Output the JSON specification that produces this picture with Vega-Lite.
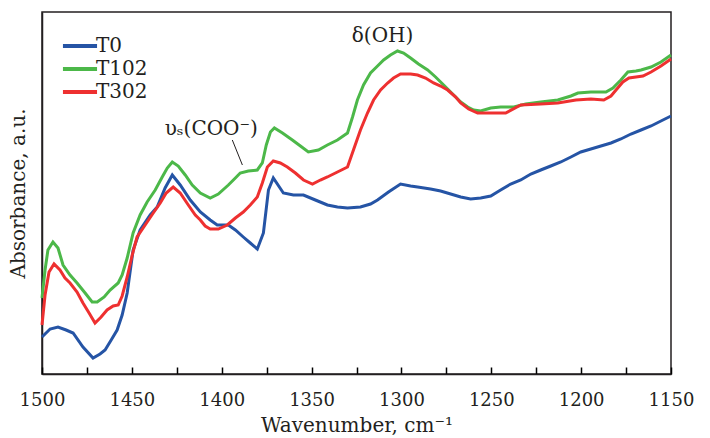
{
  "$schema": "https://vega.github.io/schema/vega-lite/v6.json",
  "width": 629,
  "height": 362,
  "autosize": {"type": "none"},
  "padding": {"left": 42, "top": 12, "right": 39, "bottom": 64},
  "background": "white",
  "config": {
    "view": {"stroke": "#231f20", "strokeWidth": 1.5},
    "font": "DejaVu Serif",
    "axis": {"grid": false, "domainColor": "#231f20", "domainWidth": 1.5, "tickColor": "#231f20", "labelColor": "#231f20", "titleColor": "#231f20", "labelFont": "DejaVu Serif", "titleFont": "DejaVu Serif", "titleFontWeight": "normal"}
  },
  "datasets": {
    "spectra": [
      {"wn":1500,"abs":37,"s":"T0"},{"wn":1495.5,"abs":45,"s":"T0"},{"wn":1491.1,"abs":47,"s":"T0"},{"wn":1486.6,"abs":44,"s":"T0"},{"wn":1482.7,"abs":41,"s":"T0"},{"wn":1477.2,"abs":27,"s":"T0"},{"wn":1471.6,"abs":16,"s":"T0"},{"wn":1467.7,"abs":20,"s":"T0"},{"wn":1464.9,"abs":24,"s":"T0"},{"wn":1461.5,"abs":34,"s":"T0"},{"wn":1458.2,"abs":44,"s":"T0"},{"wn":1455.4,"abs":59,"s":"T0"},{"wn":1452.6,"abs":81,"s":"T0"},{"wn":1449.3,"abs":124,"s":"T0"},{"wn":1445.4,"abs":144,"s":"T0"},{"wn":1439.8,"abs":159,"s":"T0"},{"wn":1435.9,"abs":167,"s":"T0"},{"wn":1431.5,"abs":186,"s":"T0"},{"wn":1427.5,"abs":199,"s":"T0"},{"wn":1423.1,"abs":189,"s":"T0"},{"wn":1417.5,"abs":174,"s":"T0"},{"wn":1411.9,"abs":162,"s":"T0"},{"wn":1406.4,"abs":154,"s":"T0"},{"wn":1402.5,"abs":149,"s":"T0"},{"wn":1396.3,"abs":149,"s":"T0"},{"wn":1392.4,"abs":144,"s":"T0"},{"wn":1388.0,"abs":137,"s":"T0"},{"wn":1384.1,"abs":131,"s":"T0"},{"wn":1380.2,"abs":125,"s":"T0"},{"wn":1376.8,"abs":141,"s":"T0"},{"wn":1374.0,"abs":184,"s":"T0"},{"wn":1371.3,"abs":196,"s":"T0"},{"wn":1365.7,"abs":181,"s":"T0"},{"wn":1360.1,"abs":179,"s":"T0"},{"wn":1354.5,"abs":179,"s":"T0"},{"wn":1347.9,"abs":174,"s":"T0"},{"wn":1341.2,"abs":169,"s":"T0"},{"wn":1335.6,"abs":167,"s":"T0"},{"wn":1330.0,"abs":166,"s":"T0"},{"wn":1322.8,"abs":167,"s":"T0"},{"wn":1317.2,"abs":170,"s":"T0"},{"wn":1313.3,"abs":174,"s":"T0"},{"wn":1307.2,"abs":182,"s":"T0"},{"wn":1300.5,"abs":190,"s":"T0"},{"wn":1294.9,"abs":188,"s":"T0"},{"wn":1291.0,"abs":187,"s":"T0"},{"wn":1283.8,"abs":185,"s":"T0"},{"wn":1278.2,"abs":183,"s":"T0"},{"wn":1272.6,"abs":180,"s":"T0"},{"wn":1267.0,"abs":177,"s":"T0"},{"wn":1261.5,"abs":175,"s":"T0"},{"wn":1255.9,"abs":176,"s":"T0"},{"wn":1250.3,"abs":178,"s":"T0"},{"wn":1244.8,"abs":184,"s":"T0"},{"wn":1239.2,"abs":190,"s":"T0"},{"wn":1233.6,"abs":194,"s":"T0"},{"wn":1228.0,"abs":200,"s":"T0"},{"wn":1222.5,"abs":204,"s":"T0"},{"wn":1216.9,"abs":208,"s":"T0"},{"wn":1211.3,"abs":212,"s":"T0"},{"wn":1205.7,"abs":217,"s":"T0"},{"wn":1200.2,"abs":222,"s":"T0"},{"wn":1194.6,"abs":225,"s":"T0"},{"wn":1189.0,"abs":228,"s":"T0"},{"wn":1183.4,"abs":231,"s":"T0"},{"wn":1177.9,"abs":235,"s":"T0"},{"wn":1172.3,"abs":240,"s":"T0"},{"wn":1166.7,"abs":244,"s":"T0"},{"wn":1161.1,"abs":248,"s":"T0"},{"wn":1155.6,"abs":253,"s":"T0"},{"wn":1150,"abs":258,"s":"T0"},
      {"wn":1500,"abs":76,"s":"T102"},{"wn":1498.3,"abs":104,"s":"T102"},{"wn":1496.7,"abs":124,"s":"T102"},{"wn":1493.9,"abs":132,"s":"T102"},{"wn":1491.1,"abs":126,"s":"T102"},{"wn":1488.3,"abs":109,"s":"T102"},{"wn":1484.4,"abs":99,"s":"T102"},{"wn":1480.5,"abs":91,"s":"T102"},{"wn":1476.0,"abs":81,"s":"T102"},{"wn":1472.1,"abs":72,"s":"T102"},{"wn":1469.3,"abs":72,"s":"T102"},{"wn":1465.4,"abs":77,"s":"T102"},{"wn":1462.1,"abs":84,"s":"T102"},{"wn":1457.6,"abs":91,"s":"T102"},{"wn":1455.4,"abs":99,"s":"T102"},{"wn":1452.6,"abs":116,"s":"T102"},{"wn":1449.3,"abs":141,"s":"T102"},{"wn":1445.4,"abs":159,"s":"T102"},{"wn":1441.5,"abs":172,"s":"T102"},{"wn":1437.0,"abs":184,"s":"T102"},{"wn":1433.1,"abs":197,"s":"T102"},{"wn":1430.3,"abs":206,"s":"T102"},{"wn":1427.5,"abs":212,"s":"T102"},{"wn":1424.2,"abs":208,"s":"T102"},{"wn":1420.3,"abs":199,"s":"T102"},{"wn":1416.4,"abs":189,"s":"T102"},{"wn":1411.9,"abs":181,"s":"T102"},{"wn":1406.4,"abs":176,"s":"T102"},{"wn":1401.9,"abs":180,"s":"T102"},{"wn":1396.3,"abs":189,"s":"T102"},{"wn":1392.4,"abs":196,"s":"T102"},{"wn":1389.7,"abs":201,"s":"T102"},{"wn":1385.2,"abs":203,"s":"T102"},{"wn":1380.2,"abs":204,"s":"T102"},{"wn":1377.4,"abs":211,"s":"T102"},{"wn":1375.2,"abs":229,"s":"T102"},{"wn":1372.9,"abs":242,"s":"T102"},{"wn":1370.7,"abs":246,"s":"T102"},{"wn":1366.2,"abs":241,"s":"T102"},{"wn":1360.7,"abs":234,"s":"T102"},{"wn":1356.2,"abs":228,"s":"T102"},{"wn":1351.8,"abs":222,"s":"T102"},{"wn":1346.2,"abs":224,"s":"T102"},{"wn":1341.2,"abs":229,"s":"T102"},{"wn":1335.6,"abs":234,"s":"T102"},{"wn":1330.0,"abs":241,"s":"T102"},{"wn":1327.2,"abs":257,"s":"T102"},{"wn":1324.5,"abs":274,"s":"T102"},{"wn":1321.1,"abs":289,"s":"T102"},{"wn":1317.2,"abs":301,"s":"T102"},{"wn":1313.3,"abs":308,"s":"T102"},{"wn":1309.9,"abs":314,"s":"T102"},{"wn":1306.1,"abs":319,"s":"T102"},{"wn":1302.2,"abs":323,"s":"T102"},{"wn":1298.8,"abs":321,"s":"T102"},{"wn":1294.9,"abs":316,"s":"T102"},{"wn":1290.5,"abs":310,"s":"T102"},{"wn":1285.4,"abs":304,"s":"T102"},{"wn":1281.0,"abs":297,"s":"T102"},{"wn":1276.5,"abs":289,"s":"T102"},{"wn":1271.5,"abs":280,"s":"T102"},{"wn":1267.0,"abs":272,"s":"T102"},{"wn":1263.1,"abs":267,"s":"T102"},{"wn":1259.8,"abs":264,"s":"T102"},{"wn":1255.9,"abs":263,"s":"T102"},{"wn":1250.3,"abs":266,"s":"T102"},{"wn":1244.8,"abs":267,"s":"T102"},{"wn":1237.5,"abs":267,"s":"T102"},{"wn":1230.8,"abs":270,"s":"T102"},{"wn":1222.5,"abs":272,"s":"T102"},{"wn":1213.0,"abs":274,"s":"T102"},{"wn":1205.7,"abs":278,"s":"T102"},{"wn":1201.8,"abs":281,"s":"T102"},{"wn":1194.6,"abs":282,"s":"T102"},{"wn":1186.2,"abs":282,"s":"T102"},{"wn":1182.3,"abs":286,"s":"T102"},{"wn":1177.9,"abs":294,"s":"T102"},{"wn":1174.0,"abs":302,"s":"T102"},{"wn":1169.5,"abs":303,"s":"T102"},{"wn":1166.7,"abs":304,"s":"T102"},{"wn":1161.1,"abs":307,"s":"T102"},{"wn":1155.6,"abs":312,"s":"T102"},{"wn":1150,"abs":319,"s":"T102"},
      {"wn":1500,"abs":49,"s":"T302"},{"wn":1498.3,"abs":79,"s":"T302"},{"wn":1496.1,"abs":102,"s":"T302"},{"wn":1493.3,"abs":110,"s":"T302"},{"wn":1490.0,"abs":104,"s":"T302"},{"wn":1487.2,"abs":96,"s":"T302"},{"wn":1484.4,"abs":91,"s":"T302"},{"wn":1480.5,"abs":82,"s":"T302"},{"wn":1477.2,"abs":71,"s":"T302"},{"wn":1473.8,"abs":61,"s":"T302"},{"wn":1470.5,"abs":51,"s":"T302"},{"wn":1467.1,"abs":57,"s":"T302"},{"wn":1463.8,"abs":64,"s":"T302"},{"wn":1460.4,"abs":68,"s":"T302"},{"wn":1457.6,"abs":69,"s":"T302"},{"wn":1455.4,"abs":78,"s":"T302"},{"wn":1452.6,"abs":97,"s":"T302"},{"wn":1449.8,"abs":119,"s":"T302"},{"wn":1447.1,"abs":137,"s":"T302"},{"wn":1442.6,"abs":149,"s":"T302"},{"wn":1438.1,"abs":161,"s":"T302"},{"wn":1434.2,"abs":171,"s":"T302"},{"wn":1430.9,"abs":181,"s":"T302"},{"wn":1427.0,"abs":187,"s":"T302"},{"wn":1423.1,"abs":181,"s":"T302"},{"wn":1418.6,"abs":169,"s":"T302"},{"wn":1414.7,"abs":159,"s":"T302"},{"wn":1411.9,"abs":154,"s":"T302"},{"wn":1409.2,"abs":148,"s":"T302"},{"wn":1406.4,"abs":145,"s":"T302"},{"wn":1401.9,"abs":145,"s":"T302"},{"wn":1396.9,"abs":149,"s":"T302"},{"wn":1392.4,"abs":156,"s":"T302"},{"wn":1388.0,"abs":162,"s":"T302"},{"wn":1384.1,"abs":169,"s":"T302"},{"wn":1380.2,"abs":177,"s":"T302"},{"wn":1377.4,"abs":191,"s":"T302"},{"wn":1374.6,"abs":207,"s":"T302"},{"wn":1371.3,"abs":213,"s":"T302"},{"wn":1367.4,"abs":211,"s":"T302"},{"wn":1363.5,"abs":207,"s":"T302"},{"wn":1359.0,"abs":201,"s":"T302"},{"wn":1354.5,"abs":194,"s":"T302"},{"wn":1349.5,"abs":190,"s":"T302"},{"wn":1345.1,"abs":194,"s":"T302"},{"wn":1341.2,"abs":197,"s":"T302"},{"wn":1335.6,"abs":202,"s":"T302"},{"wn":1330.0,"abs":207,"s":"T302"},{"wn":1326.7,"abs":224,"s":"T302"},{"wn":1322.8,"abs":244,"s":"T302"},{"wn":1318.9,"abs":261,"s":"T302"},{"wn":1315.5,"abs":274,"s":"T302"},{"wn":1311.6,"abs":284,"s":"T302"},{"wn":1307.7,"abs":291,"s":"T302"},{"wn":1304.4,"abs":296,"s":"T302"},{"wn":1300.5,"abs":300,"s":"T302"},{"wn":1294.9,"abs":300,"s":"T302"},{"wn":1291.0,"abs":299,"s":"T302"},{"wn":1286.6,"abs":296,"s":"T302"},{"wn":1282.1,"abs":291,"s":"T302"},{"wn":1278.2,"abs":288,"s":"T302"},{"wn":1274.3,"abs":284,"s":"T302"},{"wn":1269.8,"abs":277,"s":"T302"},{"wn":1267.0,"abs":271,"s":"T302"},{"wn":1262.6,"abs":265,"s":"T302"},{"wn":1257.6,"abs":261,"s":"T302"},{"wn":1250.3,"abs":261,"s":"T302"},{"wn":1242.0,"abs":261,"s":"T302"},{"wn":1233.6,"abs":269,"s":"T302"},{"wn":1222.5,"abs":270,"s":"T302"},{"wn":1213.0,"abs":271,"s":"T302"},{"wn":1202.9,"abs":274,"s":"T302"},{"wn":1194.6,"abs":275,"s":"T302"},{"wn":1187.4,"abs":274,"s":"T302"},{"wn":1183.4,"abs":278,"s":"T302"},{"wn":1180.6,"abs":284,"s":"T302"},{"wn":1176.8,"abs":292,"s":"T302"},{"wn":1173.4,"abs":296,"s":"T302"},{"wn":1169.5,"abs":297,"s":"T302"},{"wn":1165.6,"abs":298,"s":"T302"},{"wn":1161.1,"abs":302,"s":"T302"},{"wn":1155.6,"abs":308,"s":"T302"},{"wn":1150,"abs":315,"s":"T302"}
    ],
    "labels": [
      {"wn": 1310.5, "abs": 332, "label": "δ(OH)"},
      {"wn": 1405.8, "abs": 239, "label": "υₛ(COO⁻)"}
    ],
    "leader": [
      {"wn": 1394.1, "abs": 234, "wn2": 1388.5, "abs2": 209}
    ]
  },
  "encoding": {
    "x": {
      "field": "wn", "type": "quantitative",
      "scale": {"domain": [1150, 1500], "reverse": true, "nice": false, "zero": false},
      "axis": {
        "title": "Wavenumber, cm⁻¹",
        "values": [1500,1475,1450,1425,1400,1375,1350,1325,1300,1275,1250,1225,1200,1175,1150],
        "labelExpr": "datum.value % 50 === 0 ? datum.value : ''",
        "ticks": true, "tickSize": -7, "tickWidth": 1.5, "tickColor": "#000000", "zindex": 2,
        "labelFontSize": 18, "labelPadding": 24, "labelFlush": false, "labelOverlap": false,
        "titleFontSize": 20, "titlePadding": 6
      }
    },
    "y": {
      "field": "abs", "type": "quantitative",
      "scale": {"domain": [0, 362], "nice": false, "zero": false},
      "axis": {"title": "Absorbance, a.u.", "labels": false, "ticks": false, "titleFontSize": 20, "titlePadding": 14}
    }
  },
  "layer": [
    {
      "data": {"name": "spectra"},
      "mark": {"type": "line", "strokeWidth": 3, "interpolate": "linear"},
      "encoding": {
        "color": {
          "field": "s", "type": "nominal",
          "scale": {"domain": ["T0", "T102", "T302"], "range": ["#2554a5", "#4cb849", "#ee3030"]},
          "legend": {
            "title": null, "orient": "none", "legendX": 25, "legendY": 21,
            "symbolType": "M-1.55,0H1.55", "symbolSize": 484, "symbolStrokeWidth": 4,
            "labelFontSize": 20, "labelFont": "DejaVu Serif", "labelColor": "#231f20",
            "labelOffset": 3, "rowPadding": 0
          }
        }
      }
    },
    {
      "data": {"name": "leader"},
      "mark": {"type": "rule", "color": "#231f20", "strokeWidth": 1},
      "encoding": {"x2": {"field": "wn2"}, "y2": {"field": "abs2"}}
    },
    {
      "data": {"name": "labels"},
      "mark": {"type": "text", "fontSize": 20, "font": "DejaVu Serif", "color": "#231f20", "align": "center", "baseline": "alphabetic"},
      "encoding": {"text": {"field": "label"}}
    }
  ]
}
